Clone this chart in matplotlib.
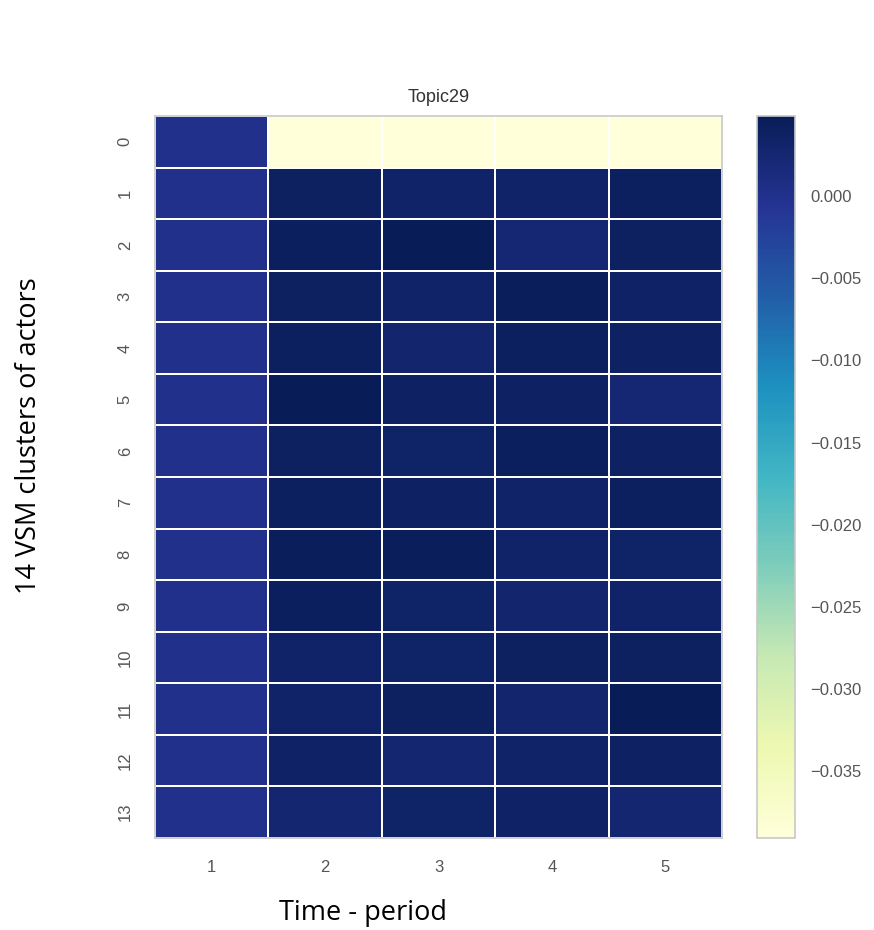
import numpy as np
import matplotlib
matplotlib.use('Agg')
import matplotlib.pyplot as plt
import matplotlib.ticker as ticker
import seaborn as sns

# cluster rows 0..13, time periods 1..5
clusters = list(range(14))
periods = [1, 2, 3, 4, 5]

period_1 = [0.0002] * 14
period_2 = [-0.0391, 0.0040, 0.0043, 0.0040, 0.0042, 0.0048, 0.0040,
            0.0041, 0.0046, 0.0043, 0.0032, 0.0033, 0.0036, 0.0028]
period_3 = [-0.0391, 0.0033, 0.0049, 0.0033, 0.0030, 0.0038, 0.0034,
            0.0037, 0.0047, 0.0034, 0.0034, 0.0040, 0.0025, 0.0035]
period_4 = [-0.0391, 0.0032, 0.0024, 0.0046, 0.0041, 0.0037, 0.0043,
            0.0032, 0.0032, 0.0030, 0.0039, 0.0030, 0.0033, 0.0036]
period_5 = [-0.0391, 0.0042, 0.0040, 0.0036, 0.0038, 0.0024, 0.0037,
            0.0042, 0.0034, 0.0033, 0.0040, 0.0049, 0.0038, 0.0025]

data = np.column_stack([period_1, period_2, period_3, period_4, period_5])

plt.rcParams['font.family'] = ['Liberation Sans', 'DejaVu Sans']
grey = '#555555'
label_font = ['Open Sans', 'DejaVu Sans']

fig = plt.figure(figsize=(8.74, 9.30), dpi=100)
ax = fig.add_axes([0.1773, 0.0989, 0.6488, 0.7764])
cax = fig.add_axes([0.8665, 0.0989, 0.0435, 0.7764])

sns.heatmap(data, ax=ax, cbar_ax=cax, cmap='YlGnBu',
            linewidths=1.3, linecolor='white',
            xticklabels=periods, yticklabels=clusters)

ax.set_title('Topic29', fontsize=13, color='#333333', pad=10)
ax.tick_params(axis='x', length=0, labelsize=12, labelcolor=grey, pad=16)
ax.tick_params(axis='y', length=0, labelsize=12, labelcolor=grey, pad=16)
for lbl in ax.get_yticklabels():
    lbl.set_rotation(90)
    lbl.set_va('center')
for s in ax.spines.values():
    s.set_visible(True)
    s.set_color('#c8c8c8')
    s.set_linewidth(1.2)

cax.yaxis.set_major_locator(ticker.MultipleLocator(0.005))
cax.tick_params(length=0, labelsize=12, labelcolor=grey, pad=11)
cbar = ax.collections[0].colorbar
cbar.outline.set_visible(True)
cbar.outline.set_edgecolor('#c8c8c8')
cbar.outline.set_linewidth(1.2)

fig.text(0.415, 0.003, 'Time - period', fontsize=19.5, family=label_font,
         ha='center', va='bottom')
fig.text(0.033, 0.532, '14 VSM clusters of actors', fontsize=19.5, family=label_font,
         rotation=90, ha='center', va='center')

fig.savefig('out.png', dpi=100)
